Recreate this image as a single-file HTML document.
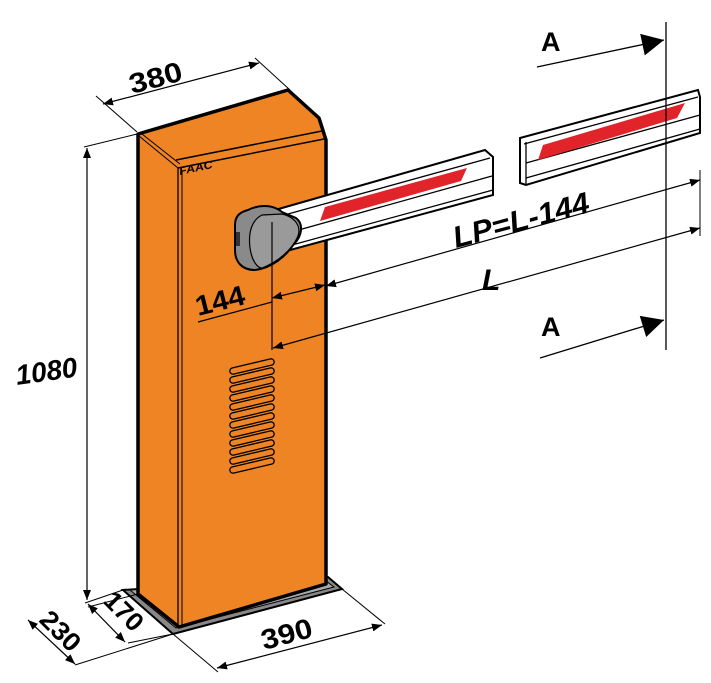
<!DOCTYPE html>
<html><head><meta charset="utf-8"><style>
html,body{margin:0;padding:0;background:#fff;}
svg{display:block;}
text{font-family:"Liberation Sans",sans-serif;font-weight:bold;fill:#000;}
</style></head><body>
<svg width="711" height="683" viewBox="0 0 711 683" xmlns="http://www.w3.org/2000/svg">
<defs>
<marker id="ar" viewBox="0 0 10 10" refX="10" refY="5" markerWidth="10" markerHeight="10" markerUnits="userSpaceOnUse" orient="auto-start-reverse"><path d="M0,1 L10,5 L0,9 Z" fill="#000"/></marker>
<marker id="big" viewBox="0 0 10 10" refX="10" refY="5" markerWidth="26" markerHeight="22" markerUnits="userSpaceOnUse" orient="auto"><path d="M0,0 L10,5 L0,10 Z" fill="#000"/></marker>
</defs>

<polygon points="123,590 173,634 342,589 328,577" fill="#888" stroke="#000" stroke-width="2"/>
<polygon points="130,590 176,628 334,587 326,581" fill="#aaa" stroke="#000" stroke-width="1"/>

<polygon points="138,134 288,90 319,118 326,140 326,584 179,627 138,594" fill="#ee8424" stroke="#000" stroke-width="3.5" stroke-linejoin="round"/>
<line x1="178" y1="168" x2="178" y2="627" stroke="#000" stroke-width="1.3"/>
<line x1="182" y1="170" x2="182" y2="626" stroke="#000" stroke-width="1"/>
<line x1="139" y1="136" x2="178" y2="168" stroke="#000" stroke-width="1"/>
<line x1="142" y1="134" x2="180" y2="164" stroke="#000" stroke-width="1"/>
<line x1="178" y1="168" x2="324" y2="139" stroke="#000" stroke-width="1.5"/>
<line x1="176" y1="160" x2="322" y2="131" stroke="#000" stroke-width="1.5"/>
<text x="180" y="175" font-size="11" font-style="italic" textLength="34" lengthAdjust="spacingAndGlyphs" transform="rotate(-12 180 175)">FAAC</text>

<g fill="#ee8424" stroke="#000" stroke-width="1.3">
<path d="M232,368 L270,359 a3,3 0 0 1 2,6 L234,374 a3,3 0 0 1 -2,-6 Z"/>
<path d="M232,377 L270,368 a3,3 0 0 1 2,6 L234,383 a3,3 0 0 1 -2,-6 Z"/>
<path d="M232,386 L270,377 a3,3 0 0 1 2,6 L234,392 a3,3 0 0 1 -2,-6 Z"/>
<path d="M232,395 L270,386 a3,3 0 0 1 2,6 L234,401 a3,3 0 0 1 -2,-6 Z"/>
<path d="M232,404 L270,395 a3,3 0 0 1 2,6 L234,410 a3,3 0 0 1 -2,-6 Z"/>
<path d="M232,413 L270,404 a3,3 0 0 1 2,6 L234,419 a3,3 0 0 1 -2,-6 Z"/>
<path d="M232,422 L270,413 a3,3 0 0 1 2,6 L234,428 a3,3 0 0 1 -2,-6 Z"/>
<path d="M232,431 L270,422 a3,3 0 0 1 2,6 L234,437 a3,3 0 0 1 -2,-6 Z"/>
<path d="M232,440 L270,431 a3,3 0 0 1 2,6 L234,446 a3,3 0 0 1 -2,-6 Z"/>
<path d="M232,449 L270,440 a3,3 0 0 1 2,6 L234,455 a3,3 0 0 1 -2,-6 Z"/>
<path d="M232,458 L270,449 a3,3 0 0 1 2,6 L234,464 a3,3 0 0 1 -2,-6 Z"/>
<path d="M232,467 L270,458 a3,3 0 0 1 2,6 L234,473 a3,3 0 0 1 -2,-6 Z"/>
</g>

<polygon points="268,212 485,150 493,157 493,195 268,256" fill="#fff" stroke="#000" stroke-width="2"/>
<line x1="270" y1="219" x2="490" y2="158" stroke="#000" stroke-width="1.3"/>
<line x1="270" y1="238" x2="492" y2="176" stroke="#000" stroke-width="1.3"/>
<line x1="270" y1="251" x2="493" y2="190" stroke="#000" stroke-width="1.3"/>
<polygon points="325,207 467,168 461,181 320,221" fill="#e0242a"/>

<polygon points="520,138 698,90 700,97 700,133 526,185 520,183" fill="#fff" stroke="#000" stroke-width="2"/>
<line x1="524" y1="144" x2="698" y2="97" stroke="#000" stroke-width="1.3"/>
<line x1="526" y1="163" x2="700" y2="115" stroke="#000" stroke-width="1.3"/>
<line x1="526" y1="178" x2="700" y2="129" stroke="#000" stroke-width="1.3"/>
<line x1="526" y1="142" x2="526" y2="185" stroke="#000" stroke-width="1.3"/>
<polygon points="543,145 685,103 677,118 538,160" fill="#e0242a"/>

<path d="M248,210 C262,203 275,206 282,212 L296,218 C304,224 302,236 294,244 C286,256 272,268 255,270 C242,270 235,262 235,250 L235,225 C235,216 240,212 248,210 Z" fill="#8a8a8a" stroke="#000" stroke-width="2"/>
<path d="M262,215 C252,220 248,232 250,248 C252,262 258,268 262,268 C278,262 292,250 298,236 C302,224 292,216 282,214 Z" fill="#9a9a9a" stroke="#000" stroke-width="1.2"/>
<rect x="236" y="232" width="4" height="14" fill="#333"/>

<line x1="96" y1="96" x2="137" y2="132" stroke="#000" stroke-width="1"/>
<line x1="255" y1="58" x2="290" y2="90" stroke="#000" stroke-width="1"/>
<line x1="103" y1="104" x2="259" y2="63" stroke="#000" stroke-width="1.2" marker-start="url(#ar)" marker-end="url(#ar)"/>
<text x="132" y="94" font-size="28" textLength="54" lengthAdjust="spacingAndGlyphs" transform="rotate(-15 132 94)">380</text>

<line x1="84" y1="147" x2="137" y2="134" stroke="#000" stroke-width="1"/>
<line x1="87" y1="148" x2="87" y2="600" stroke="#000" stroke-width="1.2" marker-start="url(#ar)" marker-end="url(#ar)"/>
<text x="17" y="385" font-size="28" font-style="italic" textLength="62" lengthAdjust="spacingAndGlyphs" transform="rotate(-8 17 385)">1080</text>

<line x1="123" y1="590" x2="85" y2="603" stroke="#000" stroke-width="1"/>
<line x1="138" y1="594" x2="88" y2="607" stroke="#000" stroke-width="1"/>
<line x1="173" y1="634" x2="75" y2="665" stroke="#000" stroke-width="1"/>
<line x1="173" y1="634" x2="128" y2="643" stroke="#000" stroke-width="1"/>
<line x1="28" y1="620" x2="75" y2="664" stroke="#000" stroke-width="1.2" marker-start="url(#ar)" marker-end="url(#ar)"/>
<line x1="88" y1="604" x2="125" y2="642" stroke="#000" stroke-width="1.2" marker-start="url(#ar)" marker-end="url(#ar)"/>
<text x="38" y="621" font-size="26" textLength="46" lengthAdjust="spacingAndGlyphs" transform="rotate(45 38 621)">230</text>
<text x="102" y="602" font-size="26" textLength="44" lengthAdjust="spacingAndGlyphs" transform="rotate(45 102 602)">170</text>
<line x1="173" y1="634" x2="218" y2="672" stroke="#000" stroke-width="1"/>
<line x1="342" y1="589" x2="385" y2="624" stroke="#000" stroke-width="1"/>
<line x1="217" y1="668" x2="382" y2="625" stroke="#000" stroke-width="1.2" marker-start="url(#ar)" marker-end="url(#ar)"/>
<text x="264" y="650" font-size="28" textLength="52" lengthAdjust="spacingAndGlyphs" transform="rotate(-15 264 650)">390</text>

<line x1="272" y1="222" x2="272" y2="350" stroke="#000" stroke-width="1.2"/>
<line x1="272" y1="298" x2="325" y2="285" stroke="#000" stroke-width="1.2" marker-start="url(#ar)" marker-end="url(#ar)"/>
<line x1="198" y1="322" x2="272" y2="302" stroke="#000" stroke-width="1.2"/>
<text x="198" y="316" font-size="28" textLength="50" lengthAdjust="spacingAndGlyphs" transform="rotate(-14 198 316)">144</text>
<line x1="326" y1="286" x2="700" y2="180" stroke="#000" stroke-width="1.2" marker-start="url(#ar)" marker-end="url(#ar)"/>
<line x1="700" y1="170" x2="700" y2="236" stroke="#000" stroke-width="1"/>
<line x1="273" y1="348" x2="700" y2="228" stroke="#000" stroke-width="1.2" marker-start="url(#ar)" marker-end="url(#ar)"/>
<text x="456" y="248" font-size="30" font-style="italic" textLength="140" lengthAdjust="spacingAndGlyphs" transform="rotate(-15 456 248)">LP=L-144</text>
<text x="482" y="290" font-size="30" font-style="italic">L</text>

<line x1="666" y1="22" x2="666" y2="350" stroke="#000" stroke-width="1.3"/>
<line x1="537" y1="67" x2="664" y2="40" stroke="#000" stroke-width="1.3" marker-end="url(#big)"/>
<line x1="540" y1="358" x2="664" y2="320" stroke="#000" stroke-width="1.3" marker-end="url(#big)"/>
<text x="541" y="51" font-size="27">A</text>
<text x="541" y="336" font-size="27">A</text>
</svg>
</body></html>
